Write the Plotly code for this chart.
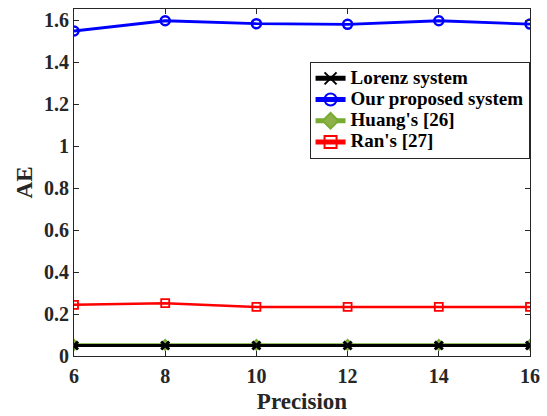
import plotly.graph_objects as go

# Data: AE versus precision for each system
precision = [6, 8, 10, 12, 14, 16]
lorenz = [0.05, 0.05, 0.05, 0.05, 0.05, 0.05]
proposed = [1.549, 1.598, 1.584, 1.581, 1.598, 1.582]
huang = [0.053, 0.053, 0.053, 0.053, 0.053, 0.053]
ran = [0.244, 0.252, 0.234, 0.234, 0.234, 0.234]

x_ticks = [6, 8, 10, 12, 14, 16]
y_ticks = [0, 0.2, 0.4, 0.6, 0.8, 1, 1.2, 1.4, 1.6]

font_family = "Liberation Serif"
axis_color = "#262626"

fig = go.Figure()

# Draw order: Huang under Lorenz; legend order set via legendrank
fig.add_trace(go.Scatter(
    x=precision, y=huang, name="Huang's [26]", mode="lines+markers",
    line=dict(color="#77AC30", width=3.5),
    marker=dict(symbol="diamond", size=8, color="#8DB04A",
                line=dict(color="#77AC30", width=1.5)),
    legendrank=3,
))
fig.add_trace(go.Scatter(
    x=precision, y=lorenz, name="Lorenz system", mode="lines+markers",
    line=dict(color="black", width=3),
    marker=dict(symbol="x-thin", size=8, color="black",
                line=dict(color="black", width=3)),
    legendrank=1,
))
fig.add_trace(go.Scatter(
    x=precision, y=proposed, name="Our proposed system", mode="lines+markers",
    line=dict(color="#0000FF", width=2.8),
    marker=dict(symbol="circle-open", size=9, color="#0000FF",
                line=dict(color="#0000FF", width=2.5)),
    legendrank=2,
))
fig.add_trace(go.Scatter(
    x=precision, y=ran, name="Ran's [27]", mode="lines+markers",
    line=dict(color="#FF0000", width=2.5),
    marker=dict(symbol="square-open", size=8, color="#FF0000",
                line=dict(color="#FF0000", width=1.8)),
    legendrank=4,
))

axis_common = dict(
    showline=True, linecolor=axis_color, linewidth=1, mirror="allticks",
    ticks="inside", ticklen=5, tickcolor=axis_color, tickwidth=1,
    showgrid=False, zeroline=False, automargin=False,
    tickfont=dict(family=font_family, size=20, color=axis_color),
)

fig.update_xaxes(
    range=[6, 16], tickvals=x_ticks,
    ticktext=[f"<b>{v}</b>" for v in x_ticks],
    ticklabelstandoff=2,
    title=dict(text="<b>Precision</b>", font=dict(family=font_family, size=23, color=axis_color), standoff=6),
    **axis_common,
)
fig.update_yaxes(
    range=[0, 1.654], tickvals=y_ticks,
    ticktext=[f"<b>{v:g}</b>" for v in y_ticks],
    title=dict(text="<b>AE</b>", font=dict(family=font_family, size=23, color=axis_color), standoff=4),
    **axis_common,
)

fig.update_layout(
    width=547, height=416,
    margin=dict(l=74, r=17, t=9, b=60),
    plot_bgcolor="white", paper_bgcolor="white",
    showlegend=True,
    legend=dict(
        x=0.999, y=0.848, xanchor="right", yanchor="top",
        bgcolor="white", bordercolor=axis_color, borderwidth=1,
        font=dict(family=font_family, size=14, color="black"),
        tracegroupgap=0, itemsizing="constant",
    ),
    legend_itemwidth=30,
)
fig.for_each_trace(lambda t: t.update(
    name=f'<span style="font-size:19px"><b>{t.name}</b></span>'))

fig.write_html("out.html")
